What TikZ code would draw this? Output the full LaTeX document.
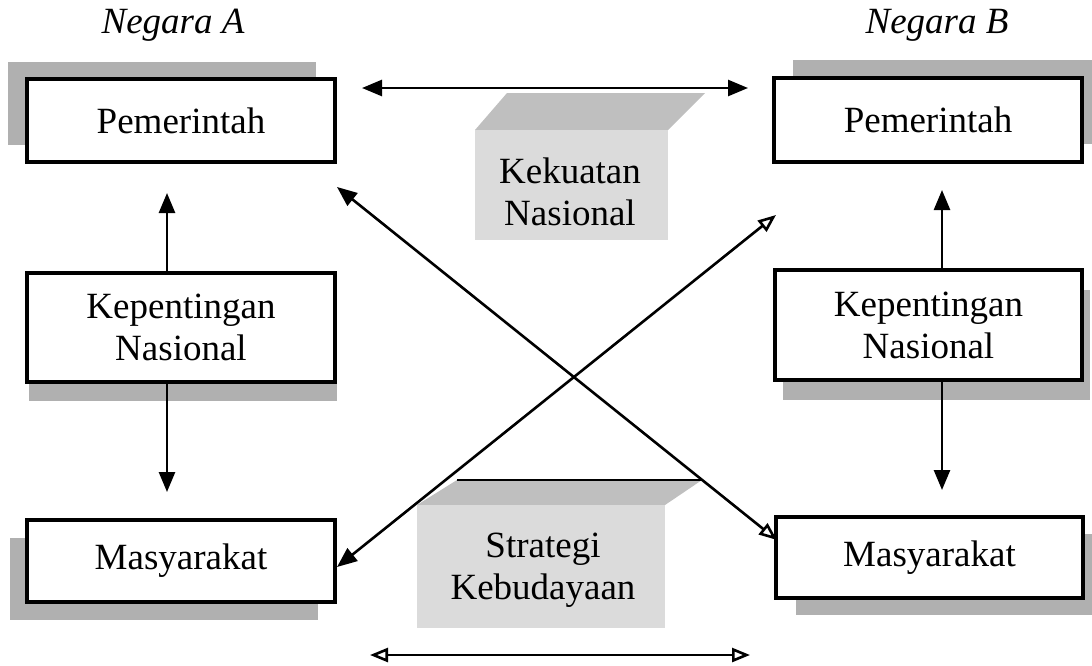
\documentclass[tikz,border=0pt]{standalone}
\usepackage{fontspec}
\setmainfont{Liberation Serif}
\usetikzlibrary{arrows.meta,shadows}
\begin{document}
\begin{tikzpicture}[x=1pt,y=-1pt,
  box/.style={draw=black,line width=3.2pt,fill=white,inner sep=0pt,align=center,
    font=\fontsize{37}{42}\selectfont},
  shd/.style 2 args={general shadow={fill=gray!62,draw=none,shadow xshift=#1pt,shadow yshift=#2pt}},
  lbl/.style={font=\fontsize{37}{42}\selectfont\itshape,inner sep=0pt},
  txt/.style={font=\fontsize{37}{42}\selectfont,align=center,inner sep=0pt},
  arr/.style={line width=2.6pt,-{Triangle[length=20pt,width=16pt]}},
  dblarr/.style={line width=2.6pt,{Triangle[length=20pt,width=16pt]}-{Triangle[length=20pt,width=16pt]}},
  dblopen/.style={line width=2.6pt,{Triangle[open,length=18pt,width=14pt]}-{Triangle[open,length=18pt,width=14pt]}},
  diag/.style={line width=2.6pt,{Triangle[length=20pt,width=16pt]}-{Triangle[open,length=18pt,width=14pt]}},
  topface/.style={fill=gray!50},
  frontface/.style={fill=gray!28}
]
\useasboundingbox (0,0) rectangle (1092,665);
\clip (0,0) rectangle (1092,665);

% 3D shaded blocks
\fill[topface] (507,93) -- (705,93) -- (668,130) -- (475,130) -- cycle;
\fill[frontface] (475,130) rectangle (668,240);
\node[txt] (kek) at (570,192) {Kekuatan\\Nasional};

\fill[topface] (457,480) -- (702,480) -- (665,505) -- (417,505) -- cycle;
\draw[line width=1.2pt] (457,480) -- (702,480);
\fill[frontface] (417,505) rectangle (665,628);
\node[txt] (str) at (543,570) {Strategi\\Kebudayaan};

% titles
\node[lbl] (na) at (173,25) {Negara A};
\node[lbl] (nb) at (937,25) {Negara B};

% boxes
\node[box,shd={-19}{17},minimum width=308pt,minimum height=83pt] (pa) at (181,120.5) {Pemerintah};
\node[box,shd={2}{-19},minimum width=308pt,minimum height=109pt] (ka) at (181,327.5) {Kepentingan\\Nasional};
\node[box,shd={-17}{-18},minimum width=308pt,minimum height=82pt] (ma) at (181,561) {Masyarakat};
\node[box,shd={19}{18},minimum width=308pt,minimum height=84pt] (pb) at (928,120) {Pemerintah};
\node[box,shd={8}{-20},minimum width=307pt,minimum height=110pt] (kb) at (928.5,325) {Kepentingan\\Nasional};
\node[box,shd={20}{-17},minimum width=307pt,minimum height=81pt] (mb) at (929.5,557.5) {Masyarakat};

% vertical arrows
\coordinate (aup) at (167,193);
\coordinate (adn) at (167,492);
\coordinate (bup) at (942,190);
\coordinate (bdn) at (942,490);
\draw[arr] (aup |- ka.north) -- (aup);
\draw[arr] (adn |- ka.south) -- (adn);
\draw[arr] (bup |- kb.north) -- (bup);
\draw[arr] (bdn |- kb.south) -- (bdn);

% horizontal arrows
\coordinate (h1a) at (362,88);
\coordinate (h1b) at (748,88);
\draw[dblarr] (h1a) -- (h1b);
\coordinate (h2a) at (370,655);
\coordinate (h2b) at (750,655);
\draw[dblopen] (h2a) -- (h2b);

% diagonal arrows
\coordinate (d1a) at (337,187);
\coordinate (d1b) at (777,540);
\draw[diag] (d1a) -- (d1b);
\coordinate (d2a) at (337,567);
\coordinate (d2b) at (776,215);
\draw[diag] (d2a) -- (d2b);
\end{tikzpicture}
\end{document}
